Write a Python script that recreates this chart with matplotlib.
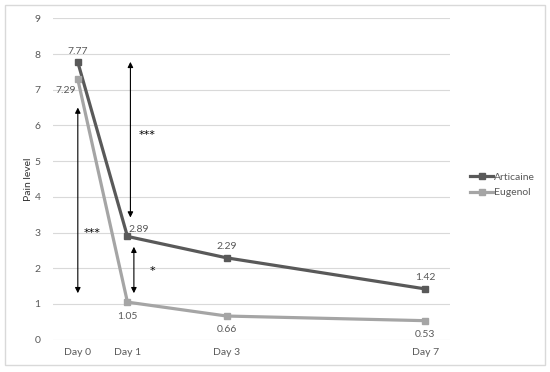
import matplotlib
matplotlib.use("Agg")
import matplotlib.pyplot as plt
from matplotlib.patches import Rectangle

days = [0, 1, 3, 7]
tick_labels = ["Day 0", "Day 1", "Day 3", "Day 7"]
articaine = [7.77, 2.89, 2.29, 1.42]
eugenol = [7.29, 1.05, 0.66, 0.53]

plt.rcParams['font.family'] = ['Lato', 'DejaVu Sans']
txt = '#595959'
c_art = '#595959'
c_eug = '#A5A5A5'

fig = plt.figure(figsize=(5.5, 3.72), dpi=100)
fig.patches.append(Rectangle((5/550, 7/372), 540/550, 360/372, transform=fig.transFigure,
                             fill=False, edgecolor='#D9D9D9', linewidth=1))
ax = fig.add_axes([53/550, 32.4/372, 397/550, 321.3/372])

ax.plot(days, articaine, color=c_art, lw=2.3, marker='s', ms=5, label='Articaine', zorder=3)
ax.plot(days, eugenol, color=c_eug, lw=2.3, marker='s', ms=5, label='Eugenol', zorder=3)

ax.set_xlim(-0.5, 7.5)
ax.set_ylim(0, 9)
ax.set_yticks(range(10))
ax.set_xticks(days)
ax.set_xticklabels(tick_labels)
ax.grid(axis='y', color='#D9D9D9', lw=0.8)
ax.set_axisbelow(True)
for s in ax.spines.values():
    s.set_visible(False)
ax.tick_params(length=0, labelsize=7.5, colors=txt, pad=6)
ax.tick_params(axis='y', pad=9)
ax.set_ylabel('Pain level', fontsize=7.5, color='#333333', labelpad=1)

# data labels
fs = 7.5
offs_a = [(0, 8), (8, 5), (0, 8), (0, 8)]
offs_e = [(-9, -8), (0, -10), (0, -10), (0, -10)]
for x, y, o in zip(days, articaine, offs_a):
    ax.annotate(f"{y:.2f}", (x, y), xytext=o, textcoords='offset points',
                ha='center', va='center', fontsize=fs, color=txt)
for x, y, o in zip(days, eugenol, offs_e):
    ax.annotate(f"{y:.2f}", (x, y), xytext=o, textcoords='offset points',
                ha='center', va='center', fontsize=fs, color=txt)

# significance arrows
arrowprops = dict(arrowstyle='<|-|>', color='black', lw=0.8, mutation_scale=8, shrinkA=0, shrinkB=0)
ax.annotate('', xy=(0.0, 1.3), xytext=(0.0, 6.5), arrowprops=arrowprops)
ax.annotate('', xy=(1.06, 3.42), xytext=(1.06, 7.78), arrowprops=arrowprops)
ax.annotate('', xy=(1.13, 1.3), xytext=(1.13, 2.6), arrowprops=arrowprops)
star = dict(fontsize=8, ha='center', va='center', color='black', family='DejaVu Sans')
ax.text(0.28, 2.98, '***', **star)
ax.text(1.39, 5.73, '***', **star)
ax.text(1.51, 1.93, '*', **star)

leg = fig.legend(loc='center left', bbox_to_anchor=(466/550, 1 - 185/372), frameon=False,
                 fontsize=7.5, handlelength=2.2, handletextpad=0.1, labelspacing=0.6,
                 borderaxespad=0)
for t in leg.get_texts():
    t.set_color(txt)

fig.savefig('out.png', dpi=100)
